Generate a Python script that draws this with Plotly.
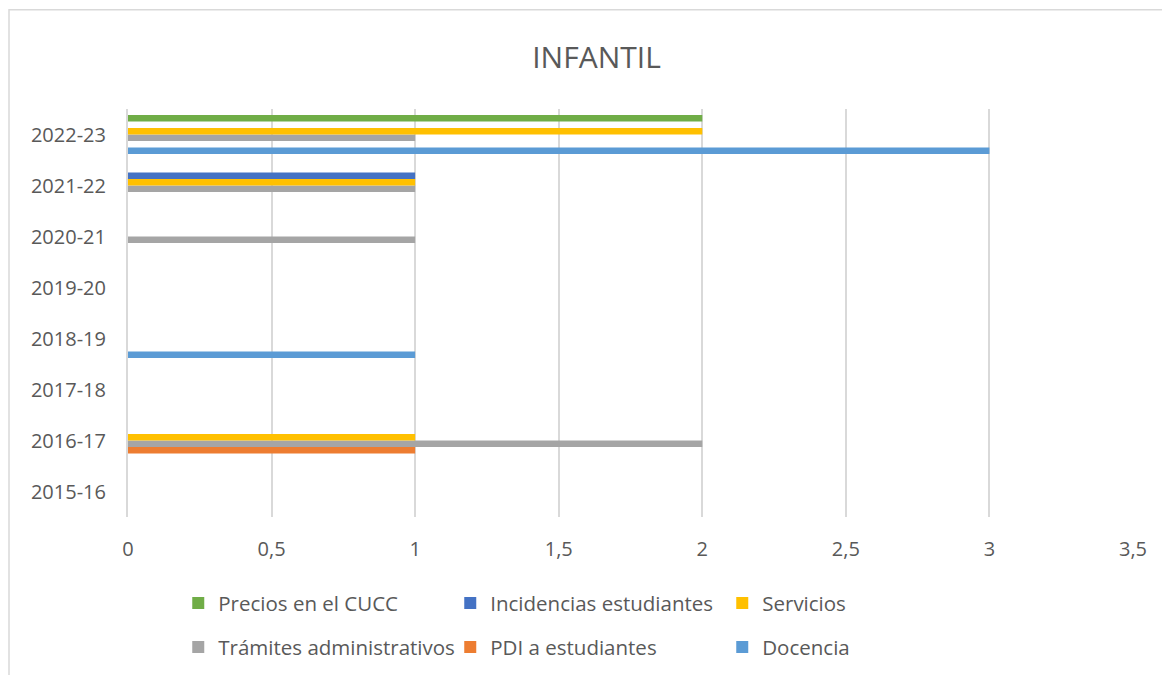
import plotly.graph_objects as go

categories = ["2015-16", "2016-17", "2017-18", "2018-19", "2019-20", "2020-21", "2021-22", "2022-23"]
series_names = ["Docencia", "PDI a estudiantes", "Trámites administrativos", "Servicios",
                "Incidencias estudiantes", "Precios en el CUCC"]
docencia = [0, 0, 0, 1, 0, 0, 0, 3]
pdi = [0, 1, 0, 0, 0, 0, 0, 0]
tramites = [0, 2, 0, 0, 0, 1, 1, 1]
servicios = [0, 1, 0, 0, 0, 0, 1, 2]
incidencias = [0, 0, 0, 0, 0, 0, 1, 0]
precios = [0, 0, 0, 0, 0, 0, 0, 2]
colors = ["#5B9BD5", "#ED7D31", "#A5A5A5", "#FFC000", "#4472C4", "#70AD47"]
legend_rows = ["legend2", "legend2", "legend2", "legend", "legend", "legend"]
x_ticks = [0, 0.5, 1, 1.5, 2, 2.5, 3, 3.5]

values = [docencia, pdi, tramites, servicios, incidencias, precios]

FONT = "Open Sans, Noto Sans, sans-serif"
GREY = "#595959"

fig = go.Figure()
for name, vals, col, lg in zip(series_names, values, colors, legend_rows):
    fig.add_trace(go.Bar(
        y=categories, x=vals, name=name, orientation="h", legend=lg,
        marker=dict(color=col, line=dict(width=0)),
    ))

legend_common = dict(orientation="h", traceorder="reversed", x=0.05, xanchor="left",
                     yanchor="middle", entrywidth=227, font=dict(family=FONT, size=20.5, color=GREY),
                     bgcolor="rgba(0,0,0,0)", itemclick=False)

fig.update_layout(
    width=1170, height=675,
    paper_bgcolor="white", plot_bgcolor="white",
    margin=dict(l=120, r=45, t=101, b=166),
    barmode="group", bargap=0.235, bargroupgap=0,
    separators=",.",
    title=dict(text="INFANTIL", x=0.503, xanchor="center", y=0.927, yanchor="middle",
               font=dict(family=FONT, size=30, color=GREY)),
    font=dict(family=FONT, size=20, color=GREY),
    xaxis=dict(range=[0, 3.5], tickvals=x_ticks, showgrid=True, gridcolor="#D9D9D9", gridwidth=2,
               zeroline=False, showline=False, ticks="", ticklabelstandoff=18,
               tickfont=dict(family=FONT, size=20, color=GREY)),
    yaxis=dict(categoryorder="array", categoryarray=categories, showgrid=False, zeroline=False,
               showline=True, linecolor="#D9D9D9", linewidth=2, ticks="",
               ticklabelstandoff=16, tickfont=dict(family=FONT, size=20, color=GREY)),
    legend=dict(y=-0.211, **legend_common),
    legend2=dict(y=-0.319, **legend_common),
    shapes=[dict(type="rect", xref="paper", yref="paper", x0=-0.1184, x1=1.2, y0=-0.6, y1=1.243,
                 line=dict(color="#D9D9D9", width=1.5), fillcolor="rgba(0,0,0,0)", layer="below")],
)

fig.write_html("out.html")
